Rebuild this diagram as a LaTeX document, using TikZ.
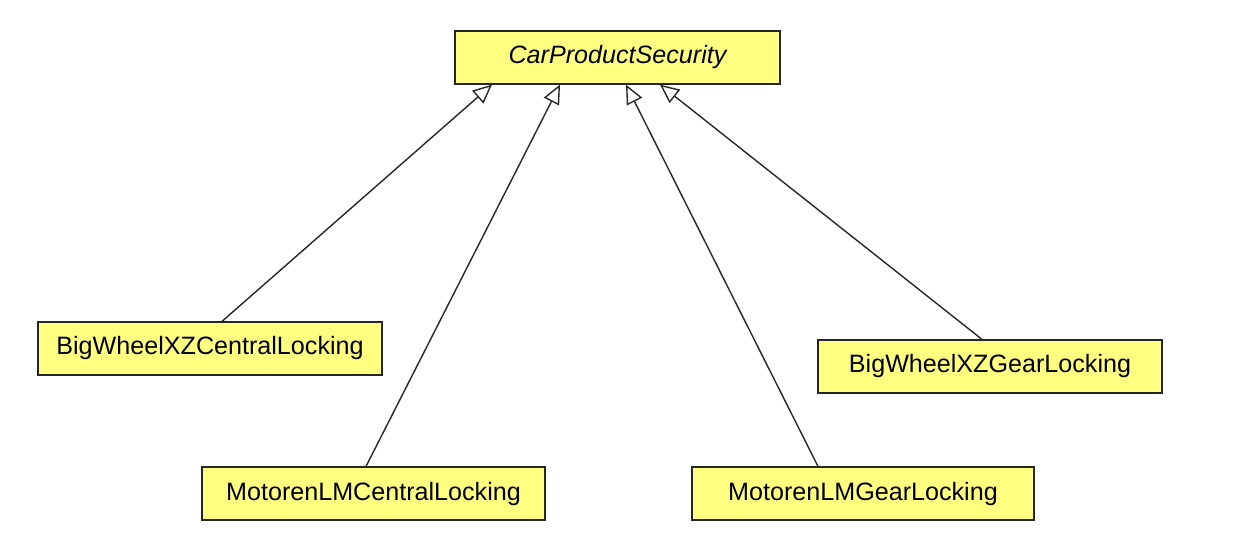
\documentclass[tikz,border=0pt]{standalone}
\usepackage{fontspec}
\setmainfont{Liberation Sans}
\usetikzlibrary{arrows.meta}
\definecolor{classfill}{RGB}{255,255,128}
\definecolor{edgegray}{RGB}{40,40,40}
\begin{document}
\begin{tikzpicture}[x=1cm,y=1cm,font=\fontsize{14.3}{17}\selectfont,
    classbox/.style={draw=black!85,fill=classfill,line width=0.7pt,
      minimum height=1.06cm,inner sep=0pt},
    inherits/.style={draw=edgegray,line width=0.8pt,
      -{Triangle[open,length=0.38cm,width=0.34cm,fill=white]}}]
  \useasboundingbox (0,0) rectangle (24.8,11.08);
  \node[classbox,minimum width=6.5cm] (security) at (12.35,9.93)
    {\itshape CarProductSecurity};
  \node[classbox,minimum width=6.88cm] (bwcentral) at (4.2,4.11)
    {BigWheelXZCentralLocking};
  \node[classbox,minimum width=6.86cm] (mcentral) at (7.47,1.21)
    {MotorenLMCentralLocking};
  \node[classbox,minimum width=6.84cm] (mgear) at (17.26,1.21)
    {MotorenLMGearLocking};
  \node[classbox,minimum width=6.88cm] (bwgear) at (19.8,3.75)
    {BigWheelXZGearLocking};
  % generalisations
  \draw[inherits] ([xshift=0.24cm]bwcentral.north) -- ([xshift=-2.51cm]security.south);
  \draw[inherits] ([xshift=-0.15cm]mcentral.north) -- ([xshift=-1.15cm]security.south);
  \draw[inherits] ([xshift=-0.9cm]mgear.north) -- ([xshift=0.17cm]security.south);
  \draw[inherits] ([xshift=-0.16cm]bwgear.north) -- ([xshift=0.85cm]security.south);
\end{tikzpicture}
\end{document}
